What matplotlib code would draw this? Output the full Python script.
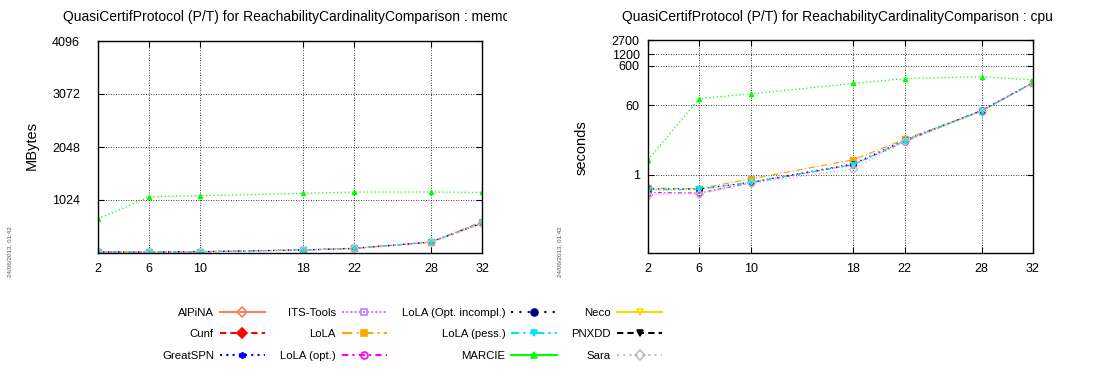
import matplotlib
matplotlib.use("Agg")
import matplotlib.pyplot as plt
from matplotlib.lines import Line2D
from matplotlib.transforms import Bbox, TransformedBbox

plt.rcParams['font.family'] = ['Liberation Sans', 'DejaVu Sans']

# instance sizes (x axis)
sizes = [2, 6, 10, 18, 22, 28, 32]

# memory usage (MBytes)
mem_marcie = [659, 1087, 1106, 1152, 1178, 1178, 1171]
mem_lola = [22, 20, 26, 60, 90, 212, 607]
mem_lola_opt = [20, 20, 24, 58, 88, 210, 576]
mem_lola_incompl = [21, 20, 25, 58, 88, 211, 580]
mem_lola_pess = [21, 20, 25, 59, 89, 211, 585]
mem_sara = [20, 19, 24, 57, 87, 209, 575]

# cpu time (seconds)
cpu_marcie = [2.4, 88, 116, 213, 285, 318, 263]
cpu_lola = [0.45, 0.44, 0.78, 2.4, 8.0, 43, 225]
cpu_lola_opt = [0.35, 0.34, 0.62, 1.8, 7.0, 44, 220]
cpu_lola_incompl = [0.43, 0.43, 0.64, 1.9, 7.6, 43, 222]
cpu_lola_pess = [0.41, 0.42, 0.64, 1.8, 7.4, 42, 220]
cpu_sara = [0.31, 0.33, 0.60, 1.4, 7.2, 41, 218]

tools = ["AlPiNA", "Cunf", "GreatSPN", "ITS-Tools", "LoLA", "LoLA (opt.)",
         "LoLA (Opt. incompl.)", "LoLA (pess.)", "MARCIE", "Neco", "PNXDD", "Sara"]

# color, linestyle, marker, marker filled
styles = {
    "AlPiNA": ("#f4845f", "-", "D", False),
    "Cunf": ("#ff0000", (0, (3, 2)), "D", True),
    "GreatSPN": ("#0000ff", (0, (1, 2)), (6, 2, 0), True),
    "ITS-Tools": ("#c080ff", (0, (1, 1)), "s", False),
    "LoLA": ("#ffa500", (0, (5, 2, 1, 2)), "s", True),
    "LoLA (opt.)": ("#ff00ff", (0, (3, 2, 1, 2)), "o", False),
    "LoLA (Opt. incompl.)": ("#000080", (0, (1, 3)), "o", True),
    "LoLA (pess.)": ("#00e5ee", (0, (4, 2, 1, 2, 1, 2)), "v", True),
    "MARCIE": ("#00ff00", "-", "^", True),
    "Neco": ("#ffd700", "-", "v", False),
    "PNXDD": ("#000000", (0, (3, 2)), "v", True),
    "Sara": ("#c0c0c0", (0, (1, 2)), "D", False),
}

mem_series = {
    "LoLA": mem_lola, "LoLA (opt.)": mem_lola_opt,
    "LoLA (Opt. incompl.)": mem_lola_incompl, "LoLA (pess.)": mem_lola_pess,
    "Sara": mem_sara, "MARCIE": mem_marcie,
}
cpu_series = {
    "LoLA": cpu_lola, "LoLA (opt.)": cpu_lola_opt,
    "LoLA (Opt. incompl.)": cpu_lola_incompl, "LoLA (pess.)": cpu_lola_pess,
    "Sara": cpu_sara, "MARCIE": cpu_marcie,
}

W, H = 1099, 379
fig = plt.figure(figsize=(W / 100, H / 100), dpi=100)


def px_axes(x0, y0, x1, y1):
    return fig.add_axes([x0 / W, 1 - y1 / H, (x1 - x0) / W, (y1 - y0) / H])


def draw(ax, series):
    for name, vals in series.items():
        c, ls, mk, filled = styles[name]
        ms = 4
        if name == "MARCIE":
            ls = (0, (1, 2))
            ms = 3
        ax.plot(sizes, vals, color=c, ls=ls, lw=0.9, marker=mk, ms=ms,
                mfc=c if filled else "none", mec=c, mew=1)


def style_axes(ax, ypad):
    ax.set_xlim(2, 32)
    ax.set_xticks(sizes)
    ax.grid(True, color="black", ls=(0, (1, 2)), lw=0.6)
    ax.tick_params(direction="in", top=True, right=True, length=4,
                   labelsize=9)
    ax.tick_params(axis="x", pad=7)
    ax.tick_params(axis="y", pad=ypad)
    ax.minorticks_off()
    for s in ax.spines.values():
        s.set_linewidth(1)


ax1 = px_axes(98, 41, 482, 253)
draw(ax1, mem_series)
style_axes(ax1, 13)
ax1.set_ylim(0, 4096)
ax1.set_yticks([1024, 2048, 3072, 4096])

ax2 = px_axes(648, 40.3, 1033, 253)
draw(ax2, cpu_series)
ax2.set_yscale("log")
style_axes(ax2, 6)
ax2.set_ylim(0.01, 2700)
ax2.set_yticks([1, 60, 600, 1200, 2700])
ax2.set_yticklabels(["1", "60", "600", "1200", "2700"])
ax2.minorticks_off()

# titles (clipped like separate panels)
t1 = fig.text(63 / W, 1 - 17 / H, "QuasiCertifProtocol (P/T) for ReachabilityCardinalityComparison : memory",
              fontsize=10, va="center", ha="left")
t1.set_clip_box(TransformedBbox(Bbox([[0, 0], [507 / W, 1]]), fig.transFigure))
t1.set_clip_on(True)
fig.text(622 / W, 1 - 17 / H, "QuasiCertifProtocol (P/T) for ReachabilityCardinalityComparison : cpu",
         fontsize=10, va="center", ha="left")

fig.text(32 / W, 1 - 146 / H, "MBytes", rotation=90, fontsize=10.5, va="center", ha="center")
fig.text(582 / W, 1 - 148 / H, "seconds", rotation=90, fontsize=10.5, va="center", ha="center")
for xd in (10, 560):
    fig.text(xd / W, 1 - 252 / H, "24/06/2013, 01:42", rotation=90, fontsize=4.5,
             color="#555555", va="center", ha="center")

handles = []
for name in tools:
    c, ls, mk, filled = styles[name]
    handles.append(Line2D([], [], color=c, ls=ls, lw=1.5, marker=mk, ms=5,
                          mfc=c if filled else "none", mec=c, mew=1.2))

fig.legend(handles, tools, ncol=4, loc="upper left",
           bbox_to_anchor=(162 / W, 1 - 308 / H), frameon=False,
           markerfirst=False, fontsize=8.2, handlelength=4.0,
           handletextpad=0.5, columnspacing=1.3, labelspacing=1.0,
           borderpad=0, borderaxespad=0)

fig.savefig("out.png", dpi=100)
